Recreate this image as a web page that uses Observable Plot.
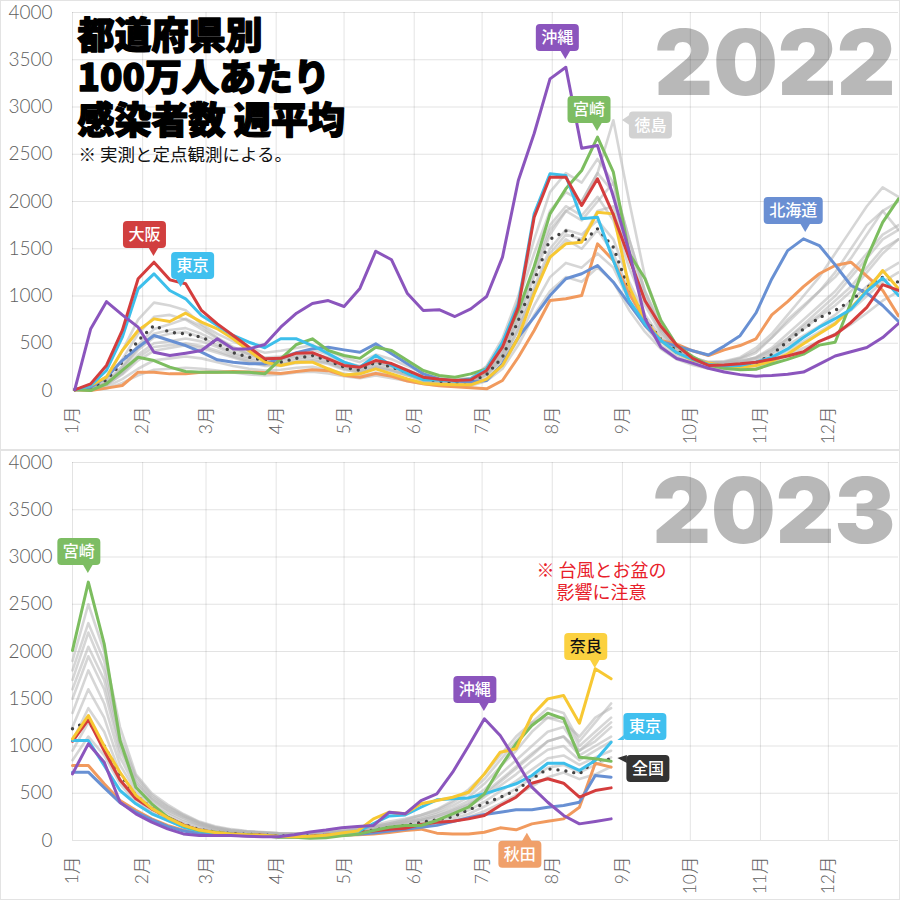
<!DOCTYPE html>
<html><head><meta charset="utf-8">
<script src="https://cdn.jsdelivr.net/npm/d3@7"></script>
<script src="https://cdn.jsdelivr.net/npm/@observablehq/plot@0.6"></script>
<style>
body{margin:0;background:#fff;}
#chart{width:900px;}
#chart svg{display:block;outline:1.5px solid #e3e3e3;outline-offset:-1px;}
</style></head><body><div id="chart"></div>
<script>
// ---------- tick labels ----------
const monthLabels = ["1月","2月","3月","4月","5月","6月","7月","8月","9月","10月","11月","12月"];
const yTicks = [0,500,1000,1500,2000,2500,3000,3500,4000];

// ---------- 2022 (weekly, first week ending 2022-01-02) ----------
const start2022 = "2022-01-02";
const okinawa2022 = [10,650,940,800,670,405,370,395,423,547,440,440,487,670,818,920,952,889,1080,1474,1383,1026,846,855,783,864,995,1411,2222,2720,3298,3421,2564,2593,2050,1470,760,458,338,290,235,195,168,152,160,172,195,280,365,410,455,560,709];
const osaka2022 = [7,70,265,635,1182,1358,1171,1129,847,705,582,458,335,340,395,400,335,265,247,317,285,212,141,120,106,113,212,458,882,1834,2257,2257,1958,2240,1860,1400,950,680,480,340,265,270,282,300,330,365,410,520,590,720,880,1120,1060];
const tokyo2022 = [7,53,212,564,1076,1235,1058,970,794,688,582,511,452,547,547,476,390,300,247,370,265,180,115,110,100,125,229,511,917,1869,2293,2275,1817,1834,1376,952,705,529,400,330,275,262,265,300,350,440,560,670,760,860,1050,1190,1005];
const miyazaki2022 = [7,0,70,212,352,317,247,201,194,194,194,194,176,335,487,547,423,370,340,458,423,317,212,159,141,176,229,494,847,1312,1869,2134,2328,2681,2310,1450,1182,741,476,360,270,235,220,225,280,330,385,480,510,930,1400,1780,2028];
const hokkaido2022 = [7,35,141,317,458,582,529,476,405,325,300,282,282,340,400,441,458,430,405,494,388,282,176,123,100,90,106,282,564,776,1005,1182,1235,1323,1146,917,688,520,470,420,375,470,580,820,1180,1480,1605,1534,1330,1111,1030,899,730];
const nara2022 = [7,53,141,423,635,758,730,818,723,653,547,420,300,265,300,300,230,165,176,229,176,123,75,65,60,60,120,265,564,1023,1411,1552,1570,1887,1869,1093,741,529,400,320,290,260,247,265,310,385,494,600,705,870,1058,1270,1076];
const akita2022 = [7,0,25,53,194,194,176,176,194,194,200,195,190,180,200,220,210,160,140,180,150,100,70,50,40,30,18,106,352,635,952,970,1005,1552,1376,1023,741,529,490,420,370,430,476,547,800,940,1100,1235,1323,1358,1210,1060,790];
const national2022 = [7,30,110,300,529,688,617,599,564,494,400,352,317,300,340,370,317,247,212,300,247,194,123,100,88,90,169,352,741,1164,1600,1690,1570,1711,1517,1058,760,540,420,330,280,260,265,290,380,520,650,770,847,950,1090,1199,1146];
const gray2022 = [
 [7,40,150,420,750,930,900,850,700,600,520,450,400,420,450,480,420,350,300,380,330,260,180,140,120,130,250,500,950,1450,1900,2100,2000,2300,2100,1500,1000,650,450,350,300,300,330,400,560,750,900,1050,1200,1400,1650,1900,2000],
 [7,25,90,260,480,650,700,760,680,560,460,380,330,330,360,380,330,260,220,300,260,200,130,100,90,100,200,420,820,1300,1750,1950,1850,2050,1800,1300,900,600,420,330,290,290,310,350,450,600,750,900,1050,1250,1450,1650,1750],
 [7,20,70,200,380,500,520,550,520,460,380,330,280,290,320,340,300,240,200,260,220,170,110,90,80,85,170,360,700,1100,1500,1700,1650,1800,1600,1150,800,560,400,320,280,270,290,320,400,520,650,780,900,1050,1250,1450,1600],
 [7,15,60,170,320,420,450,480,450,400,350,300,260,260,290,310,280,220,190,240,210,160,100,80,70,75,150,330,640,1050,1400,1600,1500,1700,1450,1050,750,520,380,300,260,250,270,300,380,480,580,680,800,950,1100,1250,1350],
 [7,20,80,230,430,560,600,620,560,480,400,350,310,320,340,360,320,260,220,280,240,180,120,95,85,95,190,400,780,1250,1700,1900,1800,2000,2200,1600,1050,700,460,340,300,310,350,450,600,800,1000,1200,1450,1700,1950,2150,2050],
 [7,10,40,120,230,320,340,360,340,300,260,230,210,220,240,250,220,180,150,190,160,120,80,60,55,60,120,270,540,900,1200,1350,1300,1450,1300,950,680,480,350,280,240,230,240,270,330,420,520,620,720,850,1000,1150,1250],
 [7,15,60,180,350,460,480,500,470,420,360,310,270,280,300,320,290,230,190,250,210,160,100,80,70,80,180,380,750,1200,1650,1900,2000,2300,2860,2000,1200,750,480,350,300,290,310,350,430,550,680,800,950,1100,1300,1500,1600],
 [7,30,120,330,600,780,800,750,650,550,450,400,350,360,400,430,380,300,260,330,280,220,150,120,110,130,260,550,1000,1600,2100,2300,2200,2450,2200,1600,1050,650,450,340,290,280,300,340,420,550,700,850,1000,1200,1400,1600,1700],
 [7,20,80,240,450,600,640,660,600,520,430,380,330,340,370,390,350,280,240,300,260,200,130,100,90,95,170,330,650,1050,1450,1650,1600,1900,1950,1400,950,620,430,330,290,300,340,420,560,720,880,1050,1250,1500,1750,1900,1700],
 [7,5,20,80,160,220,230,240,230,210,190,170,160,170,190,200,180,150,130,160,130,100,70,50,45,50,100,230,480,800,1050,1200,1150,1300,1150,850,620,440,330,270,230,220,230,250,300,370,450,520,600,700,820,950,1050]
];
const labelNames2022 = ["大阪","東京","沖縄","宮崎","徳島","北海道"];
const labelDates2022 = ["2022-02-06","2022-02-18","2022-08-07","2022-08-21","2022-09-01","2022-11-21"];
const labelValues2022 = [1418,1090,3503,2741,2857,1672];

// ---------- 2023 (weekly, first week ending 2023-01-01) ----------
const start2023 = "2023-01-01";
const miyazaki2023 = [2011,2734,2081,1058,564,388,247,159,106,88,70,60,53,35,35,25,30,50,65,106,141,159,159,212,282,352,494,776,1023,1217,1347,1288,882,864,839];
const nara2023 = [1076,1323,1000,720,480,340,240,160,110,85,70,60,55,45,40,45,55,80,100,229,300,282,388,423,458,511,705,934,970,1323,1499,1534,1241,1817,1711];
const osaka2023 = [1050,1280,950,640,441,335,247,165,110,85,70,60,55,45,40,45,55,65,80,100,120,130,170,194,204,229,265,370,458,606,653,606,458,529,557];
const tokyo2023 = [1058,1058,794,529,388,282,212,141,100,80,65,55,50,45,40,40,50,70,90,180,260,270,352,430,441,451,494,547,600,688,818,818,741,847,1040];
const okinawa2023 = [705,1023,829,405,282,194,123,70,53,53,53,45,40,40,60,90,110,135,148,159,300,282,423,494,723,1000,1288,1111,847,564,405,265,176,201,229];
const hokkaido2023 = [723,723,560,400,300,220,150,100,75,60,55,50,45,40,40,45,50,55,65,80,100,120,140,160,200,240,275,300,325,325,352,370,405,688,670];
const akita2023 = [794,794,600,423,320,230,160,110,80,65,55,50,45,40,40,40,45,55,60,70,85,106,120,78,70,70,88,134,113,176,204,229,352,818,776];
const national2023 = [1182,1270,1000,700,480,340,240,170,115,90,75,65,58,50,45,48,55,70,85,110,140,160,190,220,250,325,388,458,529,653,758,741,705,850,860];
const gray2023 = [
 [1900,2500,2000,1200,700,500,380,280,200,150,120,100,90,80,75,80,90,110,130,160,200,230,270,320,400,500,650,850,1050,1250,1400,1350,1050,1250,1450],
 [1700,2200,1800,1050,650,460,350,260,190,140,110,95,85,75,70,75,85,100,120,150,180,210,250,300,370,460,600,780,950,1150,1300,1300,1000,1150,1300],
 [1500,1950,1600,950,600,430,320,240,170,130,100,90,80,70,65,70,80,95,110,140,170,200,230,280,340,420,540,700,850,1000,1150,1200,950,1050,1200],
 [1350,1800,1450,880,560,400,300,220,160,120,95,85,75,65,60,65,75,90,105,130,160,185,215,260,320,390,500,640,780,920,1050,1100,900,1000,1100],
 [1200,1600,1300,800,520,370,280,200,150,110,90,80,70,62,58,62,70,85,100,120,150,170,200,240,290,360,460,580,700,840,960,1000,850,950,1050],
 [1050,1400,1150,720,480,340,250,180,130,100,85,75,65,58,55,58,65,78,92,110,135,155,180,215,260,320,410,520,630,750,870,900,800,880,950],
 [950,1250,1000,650,440,310,230,160,120,95,80,70,60,55,50,55,62,72,85,100,120,140,160,190,230,280,360,450,550,660,770,800,720,800,880],
 [850,1100,900,600,400,290,210,150,110,90,75,65,58,52,48,52,58,68,80,95,110,125,145,170,200,250,310,390,480,570,670,720,650,700,780],
 [1600,2050,1700,1000,620,440,330,250,180,130,100,90,80,72,68,72,80,95,115,145,180,220,270,330,420,540,700,900,1100,1250,1300,1250,1100,1300,1400],
 [1800,2300,1900,1100,680,480,360,270,190,140,110,95,85,75,70,72,80,95,110,135,165,190,220,260,310,380,480,620,760,900,1050,1100,950,1100,1250]
];
const labelNames2023 = ["宮崎","沖縄","奈良","東京","全国","秋田"];
const labelDates2023 = ["2023-01-08","2023-07-02","2023-08-20","2023-08-30","2023-08-30","2023-07-21"];
const labelValues2023 = [2825,1365,1820,1058,868,77];

// ---------- styles ----------
const colors = {"沖縄":"#8b55bd","大阪":"#d43d3d","東京":"#3dbfeb","宮崎":"#7cbd5f","北海道":"#6890d3","奈良":"#f7c833","秋田":"#f19a5e"};
const bubbleFill = {"沖縄":"#8b55bd","大阪":"#d13f3f","東京":"#40c0ef","宮崎":"#7dbd63","北海道":"#6a8fd3","奈良":"#fbd140","秋田":"#f0a06a","全国":"#333333","徳島":"#d2d2d2"};
const bubbleText = {"奈良":"#111"};
const bubbleLayout = {
  "2022大阪":{dir:"above",dx:-9},"2022東京":{dir:"above",dx:12},"2022沖縄":{dir:"above",dx:-8},
  "2022宮崎":{dir:"above",dx:-8},"2022徳島":{dir:"right",dy:5,p:7},"2022北海道":{dir:"above",dx:-12},
  "2023宮崎":{dir:"above",dx:-9},"2023沖縄":{dir:"above",dx:-9},"2023奈良":{dir:"above",dx:-9},
  "2023東京":{dir:"right",dy:-13.5,p:6},"2023全国":{dir:"right",dy:10.5,p:9},"2023秋田":{dir:"below",dx:-7}
};

const parse = d3.utcParse("%Y-%m-%d");
function rows(start, arr, name) {
  const s = parse(start);
  return arr.map((v, i) => ({name, date: d3.utcDay.offset(s, 7 * i), value: v}));
}

function bubbleMark(year, names, dates, values) {
  return (index, scales) => {
    const g = d3.create("svg:g");
    names.forEach((name, i) => {
      const tx = scales.x(parse(dates[i])), ty = scales.y(values[i]);
      const L = bubbleLayout[year + name];
      const h = 27, w = 16 * name.length + 11, r = 4;
      let bx, by, tri;
      if (L.dir === "above") {
        const p = 8; bx = tx + L.dx - w / 2; by = ty - p - h;
        tri = [[tx - 5, by + h - 0.5], [tx + 5, by + h - 0.5], [tx, ty]];
      } else if (L.dir === "below") {
        const p = 8; bx = tx + L.dx - w / 2; by = ty + p;
        tri = [[tx - 5, by + 0.5], [tx + 5, by + 0.5], [tx, ty]];
      } else {
        bx = tx + L.p; by = ty + L.dy - h / 2;
        const y1 = Math.max(by, ty - 5), y2 = Math.min(by + h, ty + 5);
        tri = [[bx + 0.5, y1], [bx + 0.5, y2], [tx, ty]];
      }
      const fill = bubbleFill[name];
      g.append("rect").attr("x", bx).attr("y", by).attr("width", w).attr("height", h)
        .attr("rx", r).attr("fill", fill);
      g.append("path").attr("d", "M" + tri.map(p => p.join(",")).join("L") + "Z").attr("fill", fill);
      g.append("text").attr("x", bx + w / 2).attr("y", by + h / 2).attr("dy", "0.36em")
        .attr("text-anchor", "middle").attr("font-size", 16)
        .attr("font-family", "'Noto Sans CJK JP', sans-serif").attr("font-weight", 500)
        .attr("fill", bubbleText[name] || "#fff").text(name);
    });
    return g.node();
  };
}

function panel(year, start, series, grays, national, labels, extras) {
  const monthTicks = d3.range(12).map(m => new Date(Date.UTC(year, m, 1)));
  const grayRows = grays.flatMap((arr, j) => rows(start, arr, "g" + j));
  const seriesMarks = series.map(([name, arr]) =>
    Plot.lineY(rows(start, arr, name), {x: "date", y: "value", stroke: colors[name], strokeWidth: 3, strokeLinejoin: "round"}));
  return Plot.plot({
    width: 900, height: 450,
    marginLeft: 72, marginRight: 2, marginTop: 12, marginBottom: 60,
    style: {fontFamily: "Lato, 'Noto Sans CJK JP', sans-serif", background: "#fff", overflow: "visible"},
    x: {type: "utc", domain: [new Date(Date.UTC(year, 0, 1)), new Date(Date.UTC(year + 1, 0, 1))]},
    y: {domain: [0, 4000]},
    marks: [
      Plot.text([String(year)], {frameAnchor: "top-right", dx: -3, dy: extras.yearDy, lineAnchor: "top",
        fontSize: 91, fontWeight: 900, fill: "#b8b8b8", fontFamily: "Inter, 'Liberation Sans', sans-serif"}),
      Plot.gridX(monthTicks, {stroke: "#000", strokeOpacity: 0.11, strokeWidth: 1}),
      Plot.gridY(yTicks, {stroke: "#000", strokeOpacity: 0.11, strokeWidth: 1}),
      Plot.axisY(yTicks, {tickSize: 0, tickPadding: 20, fontSize: 19, fill: "#5e5e5e", fontWeight: 300, label: null,
        tickFormat: d => String(d)}),
      Plot.axisX(monthTicks, {tickSize: 0, tickPadding: 16, tickRotate: -90, fontSize: 17.5, fill: "#5e5e5e",
        fontWeight: 300, label: null, tickFormat: d => monthLabels[d.getUTCMonth()]}),
      ...extras.texts,
      Plot.lineY(grayRows, {x: "date", y: "value", z: "name", stroke: "#b4b4b4", strokeOpacity: 0.55, strokeWidth: 2.6}),
      Plot.lineY(rows(start, national, "全国"), {x: "date", y: "value", stroke: "#444", strokeWidth: 3.4,
        strokeDasharray: "0 8", strokeLinecap: "round"}),
      ...seriesMarks,
      bubbleMark(year, ...labels)
    ]
  });
}

const chartTop = panel(2022, start2022,
  [["秋田", akita2022], ["北海道", hokkaido2022], ["奈良", nara2022], ["宮崎", miyazaki2022],
   ["東京", tokyo2022], ["大阪", osaka2022], ["沖縄", okinawa2022]],
  gray2022, national2022, [labelNames2022, labelDates2022, labelValues2022],
  {yearDy: 18, texts: [
    Plot.text(["都道府県別\n100万人あたり\n感染者数 週平均"], {frameAnchor: "top-left", dx: 5, dy: 6,
      textAnchor: "start", lineAnchor: "top", fontSize: 37, fontWeight: 900, lineHeight: 1.15, fill: "#000",
      stroke: "#000", strokeWidth: 1.4, strokeLinejoin: "round",
      fontFamily: "'Noto Sans CJK JP', sans-serif"}),
    Plot.text(["※ 実測と定点観測による。"], {frameAnchor: "top-left", dx: 6, dy: 136,
      textAnchor: "start", lineAnchor: "top", fontSize: 17.5, fill: "#111",
      fontFamily: "'Noto Sans CJK JP', sans-serif"})
  ]});

const chartBottom = panel(2023, start2023,
  [["秋田", akita2023], ["北海道", hokkaido2023], ["大阪", osaka2023], ["東京", tokyo2023],
   ["宮崎", miyazaki2023], ["奈良", nara2023], ["沖縄", okinawa2023]],
  gray2023, national2023, [labelNames2023, labelDates2023, labelValues2023],
  {yearDy: 16, texts: [
    Plot.text(["※ 台風とお盆の\n影響に注意"], {frameAnchor: "top-left", dx: 529, dy: 99,
      textAnchor: "middle", lineAnchor: "top", fontSize: 18, lineHeight: 1.22, fill: "#e8202a",
      fontFamily: "'Noto Sans CJK JP', sans-serif"})
  ]});

document.getElementById("chart").append(chartTop, chartBottom);
</script></body></html>
